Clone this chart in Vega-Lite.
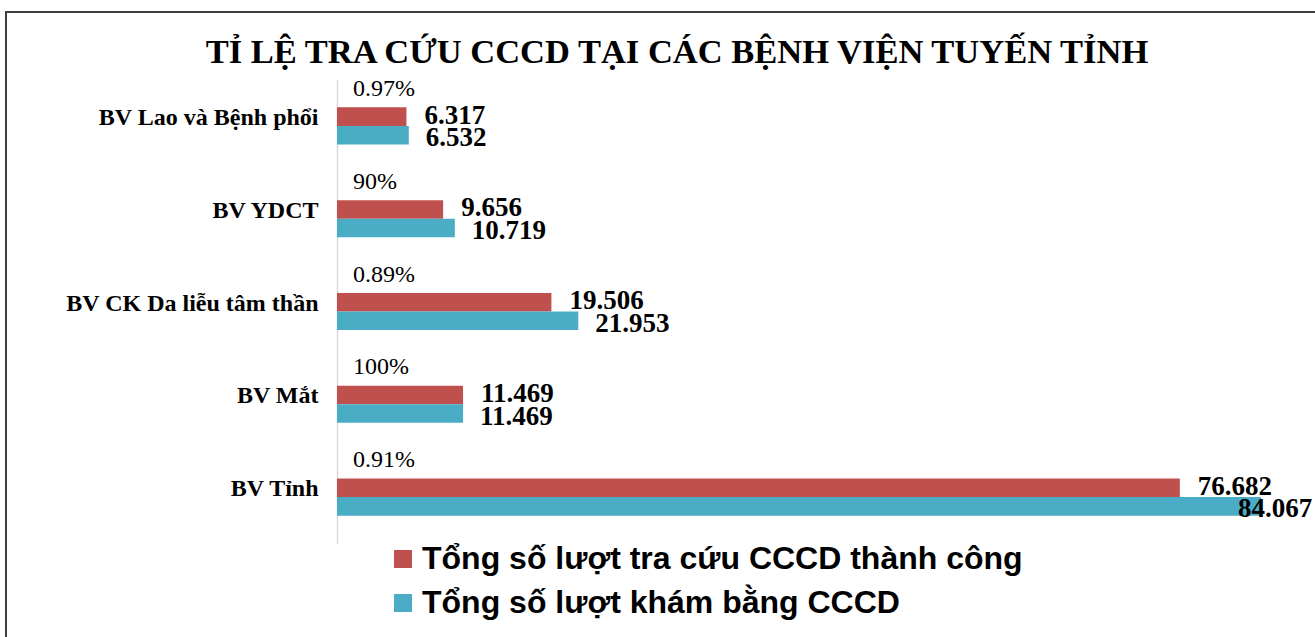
{
  "$schema": "https://vega.github.io/schema/vega-lite/v6.json",
  "width": 1312,
  "height": 633,
  "padding": {"left": 6, "top": 12, "right": 0, "bottom": 0},
  "autosize": {"type": "pad"},
  "background": "white",
  "title": {
    "text": "TỈ LỆ TRA CỨU CCCD TẠI CÁC BỆNH VIỆN TUYẾN TỈNH",
    "font": "Liberation Serif",
    "fontSize": 34.5,
    "fontWeight": "bold",
    "color": "#000000",
    "anchor": "middle",
    "baseline": "alphabetic",
    "offset": -85,
    "dx": 15
  },
  "datasets": {
    "bars": [
      {"hospital": "BV Lao và Bệnh phổi", "series": "Tổng số lượt tra cứu CCCD thành công", "value": 6317},
      {"hospital": "BV Lao và Bệnh phổi", "series": "Tổng số lượt khám bằng CCCD", "value": 6532},
      {"hospital": "BV YDCT", "series": "Tổng số lượt tra cứu CCCD thành công", "value": 9656},
      {"hospital": "BV YDCT", "series": "Tổng số lượt khám bằng CCCD", "value": 10719},
      {"hospital": "BV CK Da liễu tâm thần", "series": "Tổng số lượt tra cứu CCCD thành công", "value": 19506},
      {"hospital": "BV CK Da liễu tâm thần", "series": "Tổng số lượt khám bằng CCCD", "value": 21953},
      {"hospital": "BV Mắt", "series": "Tổng số lượt tra cứu CCCD thành công", "value": 11469},
      {"hospital": "BV Mắt", "series": "Tổng số lượt khám bằng CCCD", "value": 11469},
      {"hospital": "BV Tỉnh", "series": "Tổng số lượt tra cứu CCCD thành công", "value": 76682},
      {"hospital": "BV Tỉnh", "series": "Tổng số lượt khám bằng CCCD", "value": 84067}
    ],
    "pct": [
      {"hospital": "BV Lao và Bệnh phổi", "label": "0.97%"},
      {"hospital": "BV YDCT", "label": "90%"},
      {"hospital": "BV CK Da liễu tâm thần", "label": "0.89%"},
      {"hospital": "BV Mắt", "label": "100%"},
      {"hospital": "BV Tỉnh", "label": "0.91%"}
    ]
  },
  "layer": [
    {
      "data": {"name": "bars"},
      "mark": {"type": "bar"},
      "encoding": {
        "y": {
          "field": "hospital",
          "type": "nominal",
          "sort": ["BV Lao và Bệnh phổi", "BV YDCT", "BV CK Da liễu tâm thần", "BV Mắt", "BV Tỉnh"],
          "scale": {"range": [67.5, 531.5], "paddingInner": 0.6, "paddingOuter": 0.3},
          "axis": {
            "title": null,
            "offset": -331,
            "ticks": false,
            "domainColor": "#d9d9d9",
            "domainWidth": 1.5,
            "labelFont": "Liberation Serif",
            "labelFontWeight": "bold",
            "labelFontSize": 24,
            "labelColor": "#000000",
            "labelPadding": 19,
            "labelOffset": -8,
            "labelLimit": 0
          }
        },
        "x": {
          "field": "value",
          "type": "quantitative",
          "scale": {"domain": [0, 84067], "range": [331, 1255], "nice": false},
          "axis": null
        },
        "yOffset": {
          "field": "series",
          "type": "nominal",
          "sort": ["Tổng số lượt tra cứu CCCD thành công", "Tổng số lượt khám bằng CCCD"],
          "scale": {"domain": ["Tổng số lượt tra cứu CCCD thành công", "Tổng số lượt khám bằng CCCD"], "paddingInner": 0, "paddingOuter": 0}
        },
        "color": {
          "field": "series",
          "type": "nominal",
          "scale": {"domain": ["Tổng số lượt tra cứu CCCD thành công", "Tổng số lượt khám bằng CCCD"], "range": ["#C0504D", "#4BACC6"]},
          "legend": {
            "title": null,
            "orient": "none",
            "legendX": 381,
            "legendY": 531,
            "symbolType": "square",
            "symbolSize": 324,
            "symbolStrokeWidth": 0,
            "labelFont": "Liberation Sans",
            "labelFontWeight": "bold",
            "labelFontSize": 32,
            "labelColor": "#000000",
            "labelLimit": 0,
            "labelOffset": 3,
            "rowPadding": 12,
            "padding": 0
          }
        }
      }
    },
    {
      "data": {"name": "bars"},
      "transform": [{"filter": "datum.series === 'Tổng số lượt tra cứu CCCD thành công'"}],
      "mark": {"type": "text", "align": "left", "baseline": "middle", "dx": 18, "dy": -1, "font": "Liberation Serif", "fontWeight": "bold", "fontSize": 27, "color": "#000000"},
      "encoding": {
        "y": {"field": "hospital", "type": "nominal", "sort": ["BV Lao và Bệnh phổi", "BV YDCT", "BV CK Da liễu tâm thần", "BV Mắt", "BV Tỉnh"]},
        "yOffset": {"field": "series", "type": "nominal"},
        "x": {"field": "value", "type": "quantitative"},
        "text": {"field": "value", "type": "quantitative", "format": ",d"}
      }
    },
    {
      "data": {"name": "bars"},
      "transform": [{"filter": "datum.series === 'Tổng số lượt khám bằng CCCD' && datum.value < 80000"}],
      "mark": {"type": "text", "align": "left", "baseline": "middle", "dx": 17, "dy": 3, "font": "Liberation Serif", "fontWeight": "bold", "fontSize": 27, "color": "#000000"},
      "encoding": {
        "y": {"field": "hospital", "type": "nominal", "sort": ["BV Lao và Bệnh phổi", "BV YDCT", "BV CK Da liễu tâm thần", "BV Mắt", "BV Tỉnh"]},
        "yOffset": {"field": "series", "type": "nominal"},
        "x": {"field": "value", "type": "quantitative"},
        "text": {"field": "value", "type": "quantitative", "format": ",d"}
      }
    },
    {
      "data": {"name": "bars"},
      "transform": [{"filter": "datum.series === 'Tổng số lượt khám bằng CCCD' && datum.value >= 80000"}],
      "mark": {"type": "text", "align": "left", "baseline": "middle", "dx": -23, "dy": 3, "font": "Liberation Serif", "fontWeight": "bold", "fontSize": 27, "color": "#000000"},
      "encoding": {
        "y": {"field": "hospital", "type": "nominal", "sort": ["BV Lao và Bệnh phổi", "BV YDCT", "BV CK Da liễu tâm thần", "BV Mắt", "BV Tỉnh"]},
        "yOffset": {"field": "series", "type": "nominal"},
        "x": {"field": "value", "type": "quantitative"},
        "text": {"field": "value", "type": "quantitative", "format": ",d"}
      }
    },
    {
      "data": {"name": "pct"},
      "mark": {"type": "text", "align": "left", "baseline": "middle", "dx": 16, "dy": -37, "font": "Liberation Serif", "fontSize": 24, "color": "#000000"},
      "encoding": {
        "y": {"field": "hospital", "type": "nominal", "sort": ["BV Lao và Bệnh phổi", "BV YDCT", "BV CK Da liễu tâm thần", "BV Mắt", "BV Tỉnh"]},
        "x": {"datum": 0, "type": "quantitative"},
        "text": {"field": "label", "type": "nominal"}
      }
    }
  ],
  "config": {
    "view": {"stroke": "#404040", "strokeWidth": 2},
    "locale": {"number": {"decimal": ",", "thousands": ".", "grouping": [3], "currency": ["", " ₫"]}}
  }
}
